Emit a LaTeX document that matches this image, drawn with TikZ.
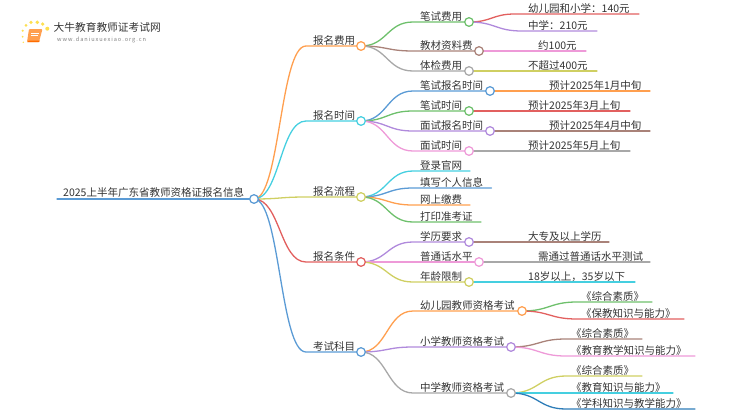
\documentclass[tikz,border=0pt]{standalone}
\usepackage{fontspec}
\setmainfont{Noto Sans CJK SC}
\usetikzlibrary{backgrounds,calc}
\definecolor{cOrange}{HTML}{FF9F4F}
\definecolor{cCyan}{HTML}{45CFE0}
\definecolor{cYellow}{HTML}{CFCF62}
\definecolor{cRed}{HTML}{E2605F}
\definecolor{cBlue}{HTML}{5B9BD5}
\definecolor{cDeep}{HTML}{2E7DB8}
\definecolor{cGreen}{HTML}{6EC06C}
\definecolor{cBrown}{HTML}{A98279}
\definecolor{cGray}{HTML}{A8A8A8}
\definecolor{cPurple}{HTML}{B08ADC}
\definecolor{cPink}{HTML}{EE9AD8}
\definecolor{cText}{HTML}{333333}
\tikzset{
  hubdot/.style={circle,draw,fill=white,line width=1.25pt,minimum size=8.6pt,inner sep=0pt},
  lab/.style={anchor=base west,inner sep=0pt,yshift=-0.6pt,font=\fontsize{10.5pt}{12pt}\selectfont,text=cText},
  wire/.style={line width=1.3pt,line cap=round},
}
\newcommand\hub[4]{\node[hubdot,draw=#4] (#1) at (#2,#3) {};}
\newcommand\conn[4]{\begin{scope}[on background layer]\draw[wire,#4] let \p1=(#1.center), \p2=(#3,0 |- #2.center) in (#1.center) .. controls ({0.5*\x1+0.5*\x2},\y1) and ({0.5*\x1+0.5*\x2},\y2) .. (\p2) -- (#2.center);\end{scope}}
\newcommand\lab[4]{\node[lab] (#1) at (#2,#3) {#4};}
\begin{document}
\begin{tikzpicture}[x=1pt,y=-1pt]
\useasboundingbox (0,0) rectangle (750,410);
% logo
\foreach \i/\a/\b/\r in {1/22.7/30.7/1.2,2/26/25.3/1.5,3/31/22.3/1.8,4/37.3/22.3/1.9,5/42.7/24/1.8,6/47.3/28.7/2,7/22.7/36.7/1,8/23.3/42.3/.8}
  \fill[yellow!70!orange,opacity=.7] (\a,\b) circle (\r);
\fill[cOrange,rounded corners=1pt] (29,29) -- (42.5,29) -- (39,42) -- (27,42) -- cycle;
\fill[orange!85!red] (27,42) -- (39,42) -- (40,40.5) -- (29,40.5) -- cycle;
\draw[white,line width=.5pt] (31,33) -- (39,33) (30.5,35.5) -- (38,35.5);
\node[lab,font=\fontsize{10.7pt}{12pt}\selectfont] (brand) at (53.5,30.5) {大牛教育教师证考试网};
\node[lab,font=\fontsize{5.6pt}{7pt}\selectfont,text=gray] (site) at (57,41) {w\,w\,w\,.\,d\,a\,n\,i\,u\,x\,u\,e\,x\,i\,a\,o\,.\,o\,r\,g\,.\,c\,n};
% root
\coordinate (rootstart) at (57,199);
\hub{root}{254}{199}{cBlue}
\begin{scope}[on background layer]\draw[wire,cBlue] (rootstart) -- (root.center);\end{scope}
\lab{troot}{63}{196}{2025上半年广东省教师资格证报名信息}
% level 1
\hub{fee}{361}{46}{cOrange}\conn{root}{fee}{306}{cOrange}\lab{tfee}{313}{43.5}{报名费用}
\hub{time}{361}{121}{cCyan}\conn{root}{time}{306}{cCyan}\lab{ttime}{313}{118.5}{报名时间}
\hub{flow}{361}{197}{cYellow}\conn{root}{flow}{306}{cYellow}\lab{tflow}{313}{194.5}{报名流程}
\hub{cond}{361}{262}{cRed}\conn{root}{cond}{306}{cRed}\lab{tcond}{313}{259.5}{报名条件}
\hub{subj}{361}{352}{cBlue}\conn{root}{subj}{306}{cBlue}\lab{tsubj}{313}{349.5}{考试科目}
% fee
\hub{f1}{469}{22}{cGreen}\conn{fee}{f1}{413}{cGreen}\lab{tf1}{420}{19.5}{笔试费用}
\hub{f2}{479}{51}{cBrown}\conn{fee}{f2}{413}{cBrown}\lab{tf2}{420}{48.5}{教材资料费}
\hub{f3}{469}{71}{cGray}\conn{fee}{f3}{413}{cGray}\lab{tf3}{420}{68.5}{体检费用}
\coordinate (f1a) at (639,14);\conn{f1}{f1a}{515}{cRed}\lab{tf1a}{528}{11.5}{幼儿园和小学：140元}
\coordinate (f1b) at (597,31);\conn{f1}{f1b}{522}{cPurple}\lab{tf1b}{528}{28.5}{中学：210元}
\coordinate (f2a) at (586,51);\conn{f2}{f2a}{530}{cPink}\lab{tf2a}{538}{48.5}{约100元}
\coordinate (f3a) at (597,71);\conn{f3}{f3a}{520}{cYellow}\lab{tf3a}{528}{68.5}{不超过400元}
% time
\hub{t1}{490}{91}{cBlue}\conn{time}{t1}{413}{cBlue}\lab{tt1}{420}{88.5}{笔试报名时间}
\hub{t2}{469}{111}{cGreen}\conn{time}{t2}{413}{cGreen}\lab{tt2}{420}{108.5}{笔试时间}
\hub{t3}{490}{131}{cPurple}\conn{time}{t3}{413}{cPurple}\lab{tt3}{420}{128.5}{面试报名时间}
\hub{t4}{469}{151}{cPink}\conn{time}{t4}{413}{cPink}\lab{tt4}{420}{148.5}{面试时间}
\coordinate (t1a) at (650,91);\conn{t1}{t1a}{540}{cOrange}\lab{tt1a}{549}{88.5}{预计2025年1月中旬}
\coordinate (t2a) at (630,111);\conn{t2}{t2a}{520}{cRed}\lab{tt2a}{528}{108.5}{预计2025年3月上旬}
\coordinate (t3a) at (650,131);\conn{t3}{t3a}{540}{cBrown}\lab{tt3a}{549}{128.5}{预计2025年4月中旬}
\coordinate (t4a) at (630,151);\conn{t4}{t4a}{520}{cGray}\lab{tt4a}{528}{148.5}{预计2025年5月上旬}
% flow
\coordinate (p1) at (470,171);\conn{flow}{p1}{413}{cCyan}\lab{tp1}{420}{168.5}{登录官网}
\coordinate (p2) at (491.5,188);\conn{flow}{p2}{413}{cBlue}\lab{tp2}{420}{185.5}{填写个人信息}
\coordinate (p3) at (470,205);\conn{flow}{p3}{413}{cOrange}\lab{tp3}{420}{202.5}{网上缴费}
\coordinate (p4) at (481,222);\conn{flow}{p4}{413}{cGreen}\lab{tp4}{420}{219.5}{打印准考证}
% conditions
\hub{c1}{469}{242}{cPurple}\conn{cond}{c1}{413}{cPurple}\lab{tc1}{420}{239.5}{学历要求}
\hub{c2}{479}{262}{cPink}\conn{cond}{c2}{413}{cPink}\lab{tc2}{420}{259.5}{普通话水平}
\hub{c3}{469}{282}{cYellow}\conn{cond}{c3}{413}{cYellow}\lab{tc3}{420}{279.5}{年龄限制}
\coordinate (c1a) at (609,242);\conn{c1}{c1a}{520}{cBrown}\lab{tc1a}{528}{239.5}{大专及以上学历}
\coordinate (c2a) at (650,262);\conn{c2}{c2a}{530}{cGray}\lab{tc2a}{538}{259.5}{需通过普通话水平测试}
\coordinate (c3a) at (635,282);\conn{c3}{c3a}{520}{cCyan}\lab{tc3a}{528}{279.5}{18岁以上，35岁以下}
% subjects
\hub{s1}{522}{311}{cOrange}\conn{subj}{s1}{413}{cOrange}\lab{ts1}{420}{308.5}{幼儿园教师资格考试}
\hub{s2}{511}{347}{cPurple}\conn{subj}{s2}{413}{cPurple}\lab{ts2}{420}{344.5}{小学教师资格考试}
\hub{s3}{511}{393}{cGray}\conn{subj}{s3}{413}{cGray}\lab{ts3}{420}{390.5}{中学教师资格考试}
\coordinate (s1a) at (652,302);\conn{s1}{s1a}{577}{cGreen}\lab{ts1a}{581}{299.5}{《综合素质》}
\coordinate (s1b) at (684,319);\conn{s1}{s1b}{577}{cRed}\lab{ts1b}{581}{316.5}{《保教知识与能力》}
\coordinate (s2a) at (642,339);\conn{s2}{s2a}{566}{cBrown}\lab{ts2a}{571}{336.5}{《综合素质》}
\coordinate (s2b) at (695,356);\conn{s2}{s2b}{566}{cPink}\lab{ts2b}{571}{353.5}{《教育教学知识与能力》}
\coordinate (s3a) at (642,376);\conn{s3}{s3a}{566}{cYellow}\lab{ts3a}{571}{373.5}{《综合素质》}
\coordinate (s3b) at (673,393);\conn{s3}{s3b}{566}{cCyan}\lab{ts3b}{571}{390.5}{《教育知识与能力》}
\coordinate (s3c) at (695,409);\conn{s3}{s3c}{566}{cDeep}\lab{ts3c}{571}{406.5}{《学科知识与教学能力》}
\end{tikzpicture}
\end{document}
